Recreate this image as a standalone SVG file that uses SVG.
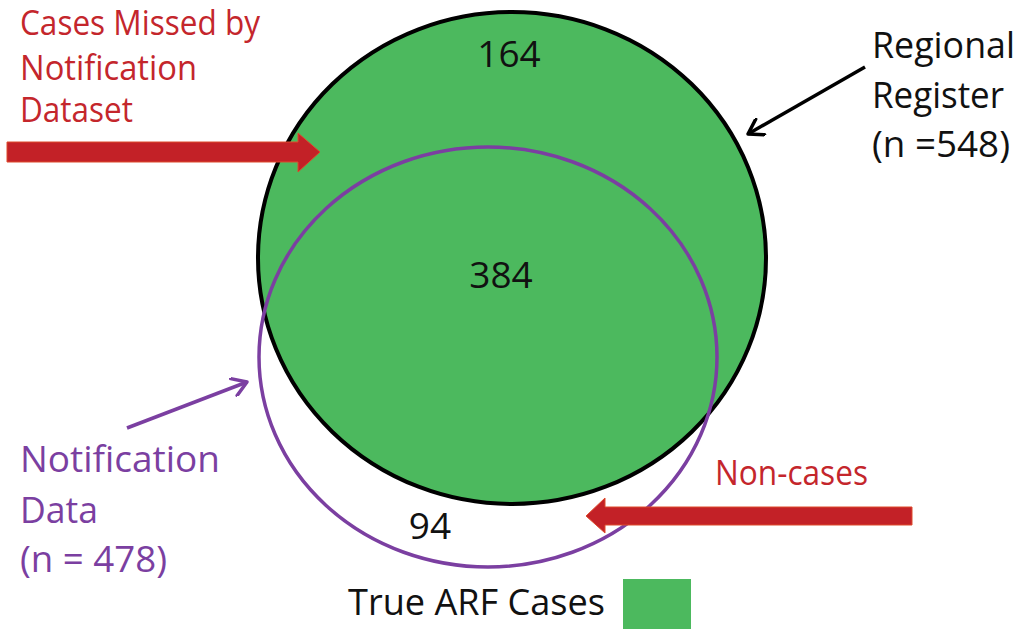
<svg xmlns="http://www.w3.org/2000/svg" width="1020" height="629" viewBox="0 0 1020 629">
<style>
.t{font-family:"Open Sans","Liberation Sans",sans-serif;}
.red{fill:#C4262C;font-size:34px;}
.blk{fill:#111;font-size:37px;}
.pur{fill:#7B3FA1;font-size:37px;}
.num{fill:#111;font-size:37px;}
.redarrow{fill:#C32127;stroke:#DE4A2C;stroke-width:1;}
</style>
<defs>
<marker id="headBlack" viewBox="-16 -10 20 20" markerWidth="20" markerHeight="20" refX="0" refY="0" orient="auto" markerUnits="userSpaceOnUse">
<polyline points="-14,-9 0,0 -14,9" fill="none" stroke="#000" stroke-width="3.5" stroke-linecap="round" stroke-linejoin="round"/>
</marker>
<marker id="headPurple" viewBox="-16 -10 20 20" markerWidth="20" markerHeight="20" refX="0" refY="0" orient="auto" markerUnits="userSpaceOnUse">
<polyline points="-14,-9 0,0 -14,9" fill="none" stroke="#7B3FA1" stroke-width="3.5" stroke-linecap="round" stroke-linejoin="round"/>
</marker>
</defs>
<rect width="1020" height="629" fill="#fff"/>
<g id="regional-register">
<ellipse cx="512" cy="258" rx="254" ry="246" fill="#4CB95E" stroke="#000" stroke-width="4"/>
</g>
<g id="notification-data">
<ellipse cx="488" cy="357" rx="229" ry="210" fill="none" stroke="#7B3FA1" stroke-width="3.5"/>
</g>
<g id="counts">
<text class="t num" x="509" y="67" text-anchor="middle">164</text>
<text class="t num" x="501" y="288" text-anchor="middle">384</text>
<text class="t num" x="430" y="539" text-anchor="middle">94</text>
</g>
<g id="connectors">
<line x1="865" y1="67" x2="748" y2="134" stroke="#000" stroke-width="3.5" marker-end="url(#headBlack)"/>
<line x1="127" y1="428" x2="247" y2="382" stroke="#7B3FA1" stroke-width="3.5" marker-end="url(#headPurple)"/>
<polygon class="redarrow" points="7,142 298,142 298,133 320,152 298,172 298,162 7,162"/>
<polygon class="redarrow" points="912,507 605,507 605,498 586,516 605,533 605,525 912,525"/>
</g>
<g id="label-missed">
<text class="t red" x="20" y="35" textLength="240" lengthAdjust="spacingAndGlyphs">Cases Missed by</text>
<text class="t red" x="20" y="80" textLength="177" lengthAdjust="spacingAndGlyphs">Notification</text>
<text class="t red" x="20" y="122" textLength="113" lengthAdjust="spacingAndGlyphs">Dataset</text>
</g>
<g id="label-register">
<text class="t blk" x="872" y="58" textLength="143" lengthAdjust="spacingAndGlyphs">Regional</text>
<text class="t blk" x="872" y="108" textLength="132" lengthAdjust="spacingAndGlyphs">Register</text>
<text class="t blk" x="872" y="157" textLength="138" lengthAdjust="spacingAndGlyphs">(n =548)</text>
</g>
<g id="label-notification">
<text class="t pur" x="20" y="472" textLength="200" lengthAdjust="spacingAndGlyphs">Notification</text>
<text class="t pur" x="20" y="523" textLength="78" lengthAdjust="spacingAndGlyphs">Data</text>
<text class="t pur" x="20" y="572" textLength="147" lengthAdjust="spacingAndGlyphs">(n = 478)</text>
</g>
<g id="label-noncases">
<text class="t red" x="715" y="485" textLength="153" lengthAdjust="spacingAndGlyphs">Non-cases</text>
</g>
<g id="legend">
<text class="t blk" x="348" y="615" textLength="257" lengthAdjust="spacingAndGlyphs">True ARF Cases</text>
<rect x="623" y="579" width="68" height="52" fill="#4CB95E"/>
</g>
</svg>
